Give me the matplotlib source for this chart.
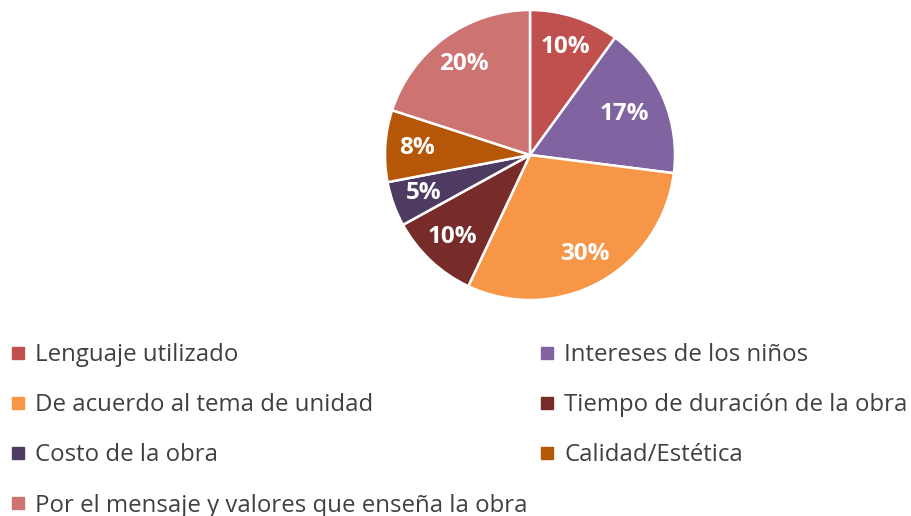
import matplotlib.pyplot as plt
from matplotlib.lines import Line2D

plt.rcParams['font.family'] = ['Open Sans', 'DejaVu Sans']

labels = ["Lenguaje utilizado", "Intereses de los niños", "De acuerdo al tema de unidad",
          "Tiempo de duración de la obra", "Costo de la obra", "Calidad/Estética",
          "Por el mensaje y valores que enseña la obra"]
values = [10, 17, 30, 10, 5, 8, 20]
colors = ["#C0504D", "#8064A2", "#F79646", "#772C2A", "#4D3B62", "#B65708", "#CD7371"]

fig = plt.figure(figsize=(9.12, 5.16), dpi=100)
# pie centred at ~(530,155) px, radius ~145 px
ax = fig.add_axes([(530 - 145) / 912, (516 - 300) / 516, 290 / 912, 290 / 516])
wedges, texts, autotexts = ax.pie(values, colors=colors, startangle=90, counterclock=False,
                                  autopct=lambda p: "%d%%" % round(p), pctdistance=0.78,
                                  wedgeprops=dict(edgecolor="white", linewidth=1.8),
                                  textprops=dict(color="white", fontsize=17.5, fontweight="bold"))
ax.set_xlim(-1, 1)
ax.set_ylim(-1, 1)
ax.set_aspect("equal")
# 17% label sits a bit closer to centre
x, y = autotexts[1].get_position()
autotexts[1].set_position((x * 0.91, y * 0.91))

# legend, row-major order like the original
order = [0, 2, 4, 6, 1, 3, 5]
handles = [Line2D([], [], linestyle="none", marker="s", markersize=8,
                  markerfacecolor=colors[i], markeredgecolor=colors[i]) for i in order]
leg = fig.legend(handles, [labels[i] for i in order], ncol=2, frameon=False,
                 loc="upper left", bbox_to_anchor=(0.0113, 1 - 343 / 516),
                 fontsize=17.3, labelspacing=1.09, handlelength=0.6, handletextpad=0.43,
                 columnspacing=0.49, borderpad=0, borderaxespad=0)
for t in leg.get_texts():
    t.set_color("#404040")

fig.savefig("out.png", dpi=100)
